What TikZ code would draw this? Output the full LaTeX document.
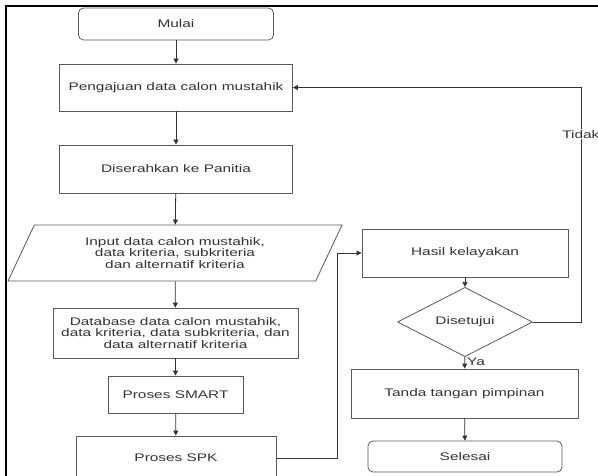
\documentclass[tikz,border=0pt]{standalone}
\usepackage{fontspec}
\setmainfont{Liberation Sans}[FakeStretch=1.4]
\usetikzlibrary{arrows.meta,shapes.geometric}

\begin{document}
\begin{tikzpicture}[x=1pt,y=-1pt,font=\fontsize{11}{11.2}\selectfont,text=black!80]
    \tikzstyle{box}=[rectangle,draw=black!65,line width=0.8pt,align=center,inner sep=1pt]
    \tikzstyle{term}=[box,rounded corners=5pt]
    \tikzstyle{io}=[trapezium,trapezium left angle=51,trapezium right angle=129,trapezium stretches body,draw=black!65,line width=0.8pt,align=center,inner sep=1pt]
    \tikzstyle{cond}=[diamond,draw=black!65,line width=0.8pt,inner sep=0pt]
    \tikzstyle{arr}=[-{Triangle[length=5pt,width=5pt]},draw=black!80,line width=0.8pt]
    \useasboundingbox (0,0) rectangle (598,476);
    \draw [line width=1.3pt] (6,480) |- (600,6);
    \node [term,minimum width=195pt,minimum height=32pt] (mulai) at (176,24) {Mulai};
    \node [box,minimum width=233pt,minimum height=47pt] (ajuan) at (176,87.5) {Pengajuan data calon mustahik};
    \node [box,minimum width=233pt,minimum height=48pt] (panitia) at (176,169) {Diserahkan ke Panitia};
    \node [io,minimum width=334pt,minimum height=56pt] (input) at (175,253) {Input data calon mustahik,\\data kriteria, subkriteria\\dan alternatif kriteria};
    \node [box,minimum width=245pt,minimum height=50pt] (basis) at (175.5,333) {Database data calon mustahik,\\data kriteria, data subkriteria, dan\\data alternatif kriteria};
    \node [box,minimum width=135pt,minimum height=37pt] (smart) at (175.5,394.5) {Proses SMART};
    \node [box,minimum width=200pt,minimum height=44pt] (spk) at (176,458) {Proses SPK};
    \node [box,minimum width=206pt,minimum height=48pt] (hasil) at (465,253) {Hasil kelayakan};
    \node [cond,minimum width=135pt,minimum height=48pt] (setuju) at (465,322) {Disetujui};
    \node [box,minimum width=227pt,minimum height=49pt] (ttd) at (464.5,393.5) {Tanda tangan pimpinan};
    \node [term,minimum width=194pt,minimum height=31pt] (selesai) at (465,456.5) {Selesai};
    \draw [arr] (mulai) -- (ajuan);
    \draw [arr] (ajuan) -- (panitia);
    \draw [arr] (panitia) -- (input);
    \draw [arr] (input) -- (basis);
    \draw [arr] (basis) -- (smart);
    \draw [arr] (smart) -- (spk);
    \draw [arr] (spk.east) -- ++(61,0) |- (hasil.west);
    \draw [arr] (hasil) -- (setuju);
    \draw [arr] (setuju) -- node [right,pos=0.45,inner sep=2pt] {Ya} (ttd);
    \draw [arr] (ttd) -- (selesai);
    \draw [arr] (setuju.east) -- ++(48,0) |- node [pos=0.4,fill=white,inner sep=1pt] {Tidak} (ajuan.east);
  \end{tikzpicture}
\end{document}
